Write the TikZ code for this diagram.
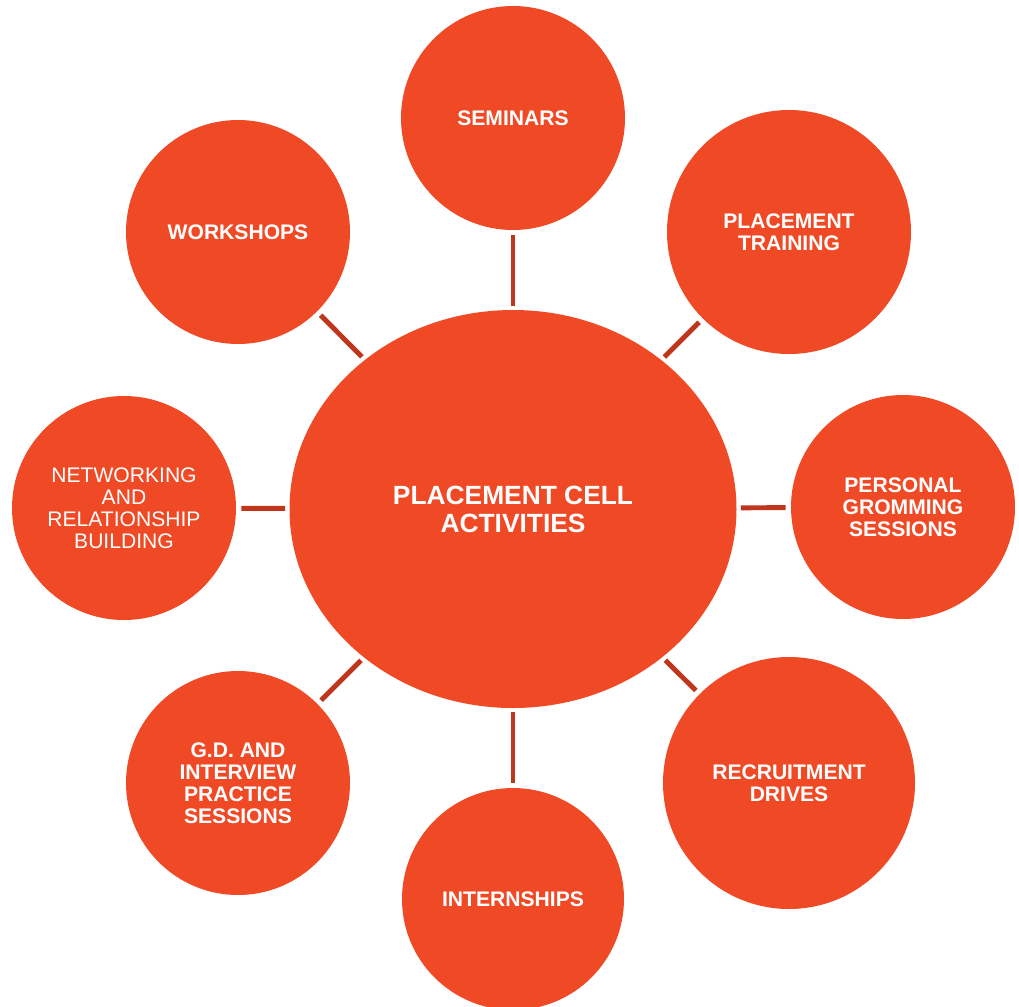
\documentclass[tikz,border=0pt]{standalone}
\usepackage{fontspec}
\setmainfont{Liberation Sans}
\usetikzlibrary{shapes.geometric}

\definecolor{cellfill}{HTML}{EF4A25}
\definecolor{linkcol}{HTML}{C0361D}

\tikzset{
  act/.style={circle, fill=cellfill, text=white, inner sep=0pt, minimum size=4.48cm,
              align=center, font=\fontsize{12}{12.5}\selectfont\bfseries},
  link/.style={draw=linkcol, line width=2.8pt, shorten <=0.1cm, shorten >=0.08cm}
}

\begin{document}
\begin{tikzpicture}
\useasboundingbox (0,0) rectangle (20.38,-20.12);

% the big ellipse in the middle
\node[ellipse, fill=cellfill, text=white, inner sep=0pt, minimum width=8.94cm, minimum height=7.96cm,
      align=center, font=\fontsize{15}{16}\selectfont\bfseries] (cell) at (10.26,-10.18) {PLACEMENT CELL\\ACTIVITIES};

% the eight activities round it
\node[act] (sem) at (10.26,-2.36) {SEMINARS};
\node[act, minimum size=4.88cm] (train) at (15.78,-4.64) {PLACEMENT\\TRAINING};
\node[act] (groom) at (18.06,-10.14) {PERSONAL\\GROMMING\\SESSIONS};
\node[act, minimum size=5.04cm] (drive) at (15.78,-15.66) {RECRUITMENT\\DRIVES};
\node[act, minimum size=4.44cm] (intern) at (10.26,-17.98) {INTERNSHIPS};
\node[act] (gd) at (4.76,-15.66) {G.D. AND\\INTERVIEW\\PRACTICE\\SESSIONS};
\node[act, font=\fontsize{12}{12.5}\selectfont] (net) at (2.48,-10.16) {NETWORKING\\AND\\RELATIONSHIP\\BUILDING};
\node[act] (work) at (4.76,-4.64) {WORKSHOPS};

% spokes
\foreach \n in {sem,train,groom,drive,intern,gd,net,work}
  \draw[link] (\n) -- (cell);
\end{tikzpicture}
\end{document}
